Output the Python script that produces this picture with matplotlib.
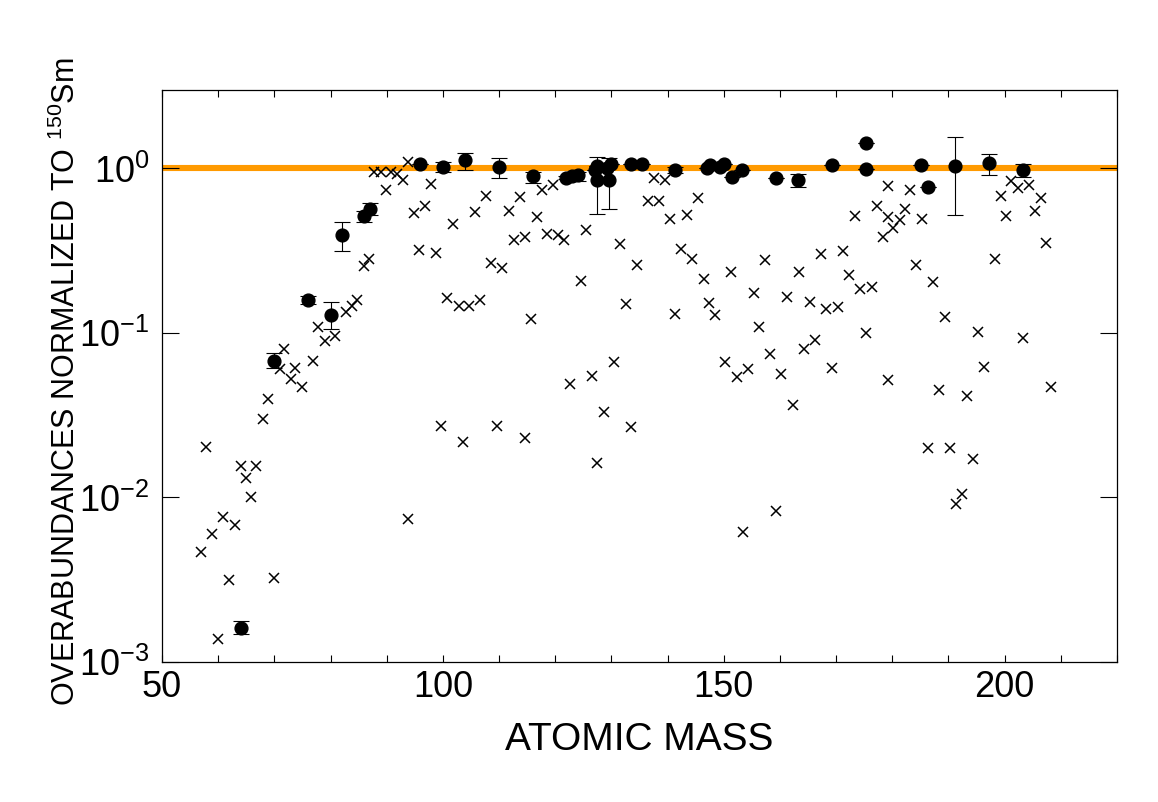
import matplotlib
matplotlib.use("Agg")
import matplotlib.pyplot as plt
from matplotlib.ticker import FixedLocator, MultipleLocator, NullLocator

plt.rcParams['font.family'] = ['Liberation Sans', 'DejaVu Sans']
plt.rcParams['mathtext.fontset'] = 'custom'
plt.rcParams['mathtext.rm'] = 'Liberation Sans'
plt.rcParams['mathtext.it'] = 'Liberation Sans:italic'
plt.rcParams['mathtext.bf'] = 'Liberation Sans:bold'

# Measured overabundances (filled circles) with asymmetric uncertainties
meas_mass = [64.0, 70.0, 76.0, 80.0, 82.0, 86.0, 87.0, 96.0, 100.0, 104.0,
             110.0, 116.0, 122.0, 123.0, 124.0, 127.0, 127.5, 127.5, 129.3, 129.9,
             129.6, 133.4, 135.4, 141.4, 147.0, 147.6, 149.4, 150.0, 151.5, 153.3,
             159.3, 163.3, 169.3, 175.4, 175.4, 185.1, 186.3, 191.2, 197.2, 203.2]
meas_val = [0.0016, 0.068, 0.159, 0.129, 0.395, 0.517, 0.567, 1.07, 1.02, 1.12,
            1.02, 0.894, 0.88, 0.90, 0.91, 0.98, 1.03, 0.854, 1.01, 1.06,
            0.854, 1.06, 1.07, 0.98, 1.01, 1.05, 1.02, 1.06, 0.89, 0.98,
            0.88, 0.85, 1.05, 1.43, 0.99, 1.05, 0.775, 1.04, 1.08, 0.98]
meas_lo = [0.00147, 0.061, 0.151, 0.105, 0.317, 0.47, 0.52, 1.07, 0.95, 0.98,
           0.88, 0.82, 0.86, 0.88, 0.84, 0.98, 1.03, 0.53, 1.01, 1.06,
           0.57, 1.06, 1.07, 0.94, 1.01, 1.05, 1.02, 1.06, 0.89, 0.98,
           0.88, 0.775, 1.05, 1.43, 0.99, 1.05, 0.775, 0.52, 0.915, 0.89]
meas_hi = [0.00177, 0.076, 0.167, 0.154, 0.47, 0.55, 0.617, 1.07, 1.10, 1.25,
           1.16, 0.95, 0.90, 0.92, 0.95, 0.98, 1.03, 1.17, 1.01, 1.06,
           1.16, 1.06, 1.07, 1.02, 1.01, 1.05, 1.02, 1.06, 0.89, 0.98,
           0.88, 0.92, 1.05, 1.43, 0.99, 1.05, 0.775, 1.56, 1.23, 1.07]

# Calculated overabundances (crosses)
calc_mass = [57.0, 57.9, 58.9, 59.9, 60.9, 62.0, 63.0, 64.0, 64.9, 65.9,
             66.8, 68.0, 68.9, 69.9, 71.0, 71.8, 72.9, 73.7, 74.9, 76.8,
             77.8, 79.0, 80.8, 82.7, 83.8, 84.7, 85.9, 86.9, 87.8, 89.0,
             89.8, 90.7, 91.8, 92.9, 93.8, 93.8, 94.8, 95.7, 96.8, 97.8,
             98.8, 99.7, 100.7, 101.8, 102.8, 103.6, 104.7, 105.8, 106.6, 107.7,
             108.5, 109.6, 110.6, 111.7, 112.7, 113.7, 114.7, 114.7, 115.7, 116.7,
             117.6, 118.6, 119.6, 120.5, 121.6, 122.6, 124.5, 125.5, 126.6, 127.5,
             128.6, 130.5, 131.6, 132.6, 133.5, 134.5, 136.6, 137.6, 138.5, 139.5,
             140.4, 141.4, 142.4, 143.4, 144.4, 145.4, 146.4, 147.3, 148.4, 150.3,
             151.3, 152.4, 153.4, 154.3, 155.3, 156.3, 157.3, 158.3, 159.3, 160.2,
             161.2, 162.3, 163.4, 164.2, 165.3, 166.3, 167.3, 168.2, 169.3, 170.3,
             171.2, 172.3, 173.3, 174.3, 175.3, 176.3, 177.2, 178.3, 179.2, 179.2,
             179.3, 180.2, 181.3, 182.2, 183.2, 184.2, 185.2, 186.3, 187.3, 188.4,
             189.3, 190.3, 191.3, 192.4, 193.3, 194.3, 195.2, 196.3, 198.2, 199.3,
             200.3, 201.2, 202.3, 203.3, 204.3, 205.4, 206.4, 207.3, 208.3]
calc_val = [0.00464, 0.0202, 0.0060, 0.00137, 0.0076, 0.00313, 0.00676, 0.0156, 0.0131, 0.0100,
            0.0156, 0.0299, 0.0397, 0.00325, 0.060, 0.080, 0.0525, 0.061, 0.047, 0.068,
            0.109, 0.089, 0.096, 0.135, 0.145, 0.158, 0.254, 0.283, 0.955, 0.955,
            0.74, 0.946, 0.92, 0.854, 1.10, 0.0074, 0.534, 0.32, 0.594, 0.80,
            0.306, 0.0273, 0.164, 0.46, 0.145, 0.0217, 0.145, 0.541, 0.158, 0.68,
            0.265, 0.0273, 0.249, 0.554, 0.365, 0.667, 0.385, 0.0229, 0.122, 0.505,
            0.743, 0.40, 0.796, 0.395, 0.365, 0.049, 0.206, 0.42, 0.055, 0.0163,
            0.0329, 0.067, 0.348, 0.149, 0.027, 0.26, 0.637, 0.87, 0.637, 0.854,
            0.49, 0.131, 0.325, 0.52, 0.283, 0.658, 0.212, 0.152, 0.128, 0.067,
            0.234, 0.054, 0.0062, 0.060, 0.175, 0.109, 0.278, 0.074, 0.0083, 0.056,
            0.166, 0.0366, 0.236, 0.080, 0.154, 0.090, 0.30, 0.139, 0.061, 0.144,
            0.314, 0.224, 0.517, 0.186, 0.100, 0.19, 0.589, 0.382, 0.778, 0.51,
            0.052, 0.433, 0.487, 0.567, 0.74, 0.26, 0.49, 0.0200, 0.204, 0.045,
            0.125, 0.0200, 0.0091, 0.0105, 0.0413, 0.0171, 0.101, 0.062, 0.283, 0.683,
            0.517, 0.834, 0.76, 0.093, 0.79, 0.549, 0.66, 0.353, 0.047]

y_tick_vals = [1e-3, 1e-2, 1e-1, 1e0]
y_tick_labels = [r'$\mathregular{10^{-3}}$', r'$\mathregular{10^{-2}}$',
                 r'$\mathregular{10^{-1}}$', r'$\mathregular{10^{0}}$']
x_tick_vals = [50, 100, 150, 200]
reference_level = 1.0

fig = plt.figure(figsize=(11.58, 8.02), dpi=100)
ax = fig.add_axes([0.1399, 0.1746, 0.8247, 0.7132])

ax.set_yscale('log')
ax.set_xlim(50, 220)
ax.set_ylim(1e-3, 3)

ax.axhline(reference_level, color='#FF9A00', lw=4.4, zorder=1)

ax.plot(calc_mass, calc_val, linestyle='none', marker='x', ms=6.5, mew=1.1,
        color='black', zorder=2)

err_lo = [v - lo for v, lo in zip(meas_val, meas_lo)]
err_hi = [hi - v for v, hi in zip(meas_val, meas_hi)]
ax.errorbar(meas_mass, meas_val, yerr=[err_lo, err_hi], fmt='o', ms=9.2,
            color='black', ecolor='black', elinewidth=0.8, capsize=5.5,
            capthick=0.8, zorder=3)

ax.xaxis.set_major_locator(FixedLocator(x_tick_vals))
ax.xaxis.set_minor_locator(MultipleLocator(10))
ax.yaxis.set_major_locator(FixedLocator(y_tick_vals))
ax.yaxis.set_minor_locator(NullLocator())
ax.set_yticklabels(y_tick_labels)

ax.tick_params(axis='x', which='both', direction='in', top=True, length=5,
               width=0.8, labelsize=26, pad=6)
ax.tick_params(axis='y', which='major', direction='in', right=True, length=12,
               width=0.8, labelsize=26, pad=9)

for s in ax.spines.values():
    s.set_linewidth(0.9)

ax.set_xlabel('ATOMIC MASS', fontsize=28, labelpad=12)
ax.set_ylabel(r'OVERABUNDANCES NORMALIZED TO $\mathregular{^{150}}$Sm', fontsize=22)
ax.yaxis.set_label_coords(-0.0838, 0.49)

fig.savefig('out.png', dpi=100)
